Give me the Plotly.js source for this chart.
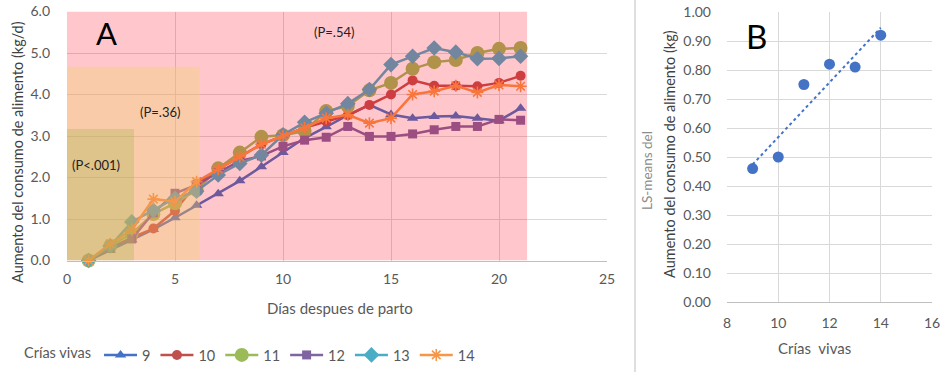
<!DOCTYPE html>
<html>
<head>
<meta charset="utf-8">
<script src="https://cdn.plot.ly/plotly-3.0.1.min.js"></script>
<style>html,body{margin:0;padding:0;background:#fff;}#chart{width:950px;height:372px;}</style>
</head>
<body>
<div id="chart"></div>
<script>
// ---- Panel A data ----
const days = [1,2,3,4,5,6,7,8,9,10,11,12,13,14,15,16,17,18,19,20,21];
const seriesNames = ['9','10','11','12','13','14'];
const s9  = [0,0.25,0.50,0.75,1.03,1.33,1.61,1.92,2.26,2.60,2.95,3.22,3.50,3.75,3.52,3.43,3.47,3.48,3.43,3.37,3.67];
const s10 = [0,0.30,0.55,0.77,1.20,1.85,2.20,2.50,2.80,3.00,3.20,3.35,3.50,3.75,4.00,4.34,4.21,4.21,4.20,4.28,4.45];
const s11 = [0,0.35,0.65,1.12,1.38,1.70,2.22,2.60,2.98,3.02,3.12,3.60,3.72,4.10,4.28,4.62,4.78,4.83,5.00,5.10,5.12];
const s12 = [0,0.30,0.52,1.15,1.62,1.82,2.12,2.40,2.52,2.75,2.90,2.97,3.23,2.99,2.99,3.05,3.15,3.23,3.23,3.40,3.38];
const s13 = [0,0.35,0.93,1.21,1.50,1.67,2.06,2.34,2.54,3.03,3.33,3.55,3.78,4.12,4.72,4.92,5.12,5.02,4.86,4.87,4.92];
const s14 = [0,0.40,0.75,1.48,1.42,1.90,2.20,2.50,2.80,3.00,3.20,3.43,3.51,3.31,3.43,4.00,4.08,4.21,4.05,4.23,4.20];
const pLabels = ['(P<.001)','(P=.36)','(P=.54)'];

// ---- Panel B data ----
const criasB = [9,10,11,12,13,14];
const lsMeans = [0.46,0.50,0.75,0.82,0.81,0.92];

const colors = ['#4472C4','#C0504D','#9BBB59','#8064A2','#4BACC6','#F79646'];
const symbols = ['triangle-up','circle','circle','square','diamond','asterisk-open'];
const sizes = [10,10,14,9,12,10];
const allS = [s9,s10,s11,s12,s13,s14];

const font = 'Lato, "Noto Sans", sans-serif';
const traces = allS.map((s,i)=>({
  x: days, y: s, type:'scatter', mode:'lines+markers', name: seriesNames[i],
  xaxis:'x', yaxis:'y', cliponaxis:false,
  line:{color:colors[i], width:2.5},
  marker:{symbol:symbols[i], size:sizes[i], color:colors[i], line:{color:colors[i], width: i===5?1.6:0}}
}));

// regression trendline for panel B
const n = criasB.length;
const mx = criasB.reduce((a,b)=>a+b,0)/n;
const my = lsMeans.reduce((a,b)=>a+b,0)/n;
let sxy=0, sxx=0;
for(let i=0;i<n;i++){sxy+=(criasB[i]-mx)*(lsMeans[i]-my); sxx+=(criasB[i]-mx)**2;}
const slope = sxy/sxx, icpt = my - slope*mx;
const tx = [criasB[0], criasB[n-1]];
traces.push({x:tx, y:tx.map(v=>icpt+slope*v), type:'scatter', mode:'lines', xaxis:'x2', yaxis:'y2',
  showlegend:false, line:{color:'#4472C4', width:2, dash:'dot'}, hoverinfo:'skip'});
traces.push({x:criasB, y:lsMeans, type:'scatter', mode:'markers', xaxis:'x2', yaxis:'y2', showlegend:false,
  cliponaxis:false, marker:{color:'#4472C4', size:11}});

const W=950, H=372;
const px = v=>v/W, py = v=>1-v/H;
const ann = (o)=>Object.assign({xref:'paper', yref:'paper', showarrow:false, xanchor:'center', yanchor:'middle'}, o);

const layout = {
  width:W, height:H, margin:{l:0,r:0,t:0,b:0}, paper_bgcolor:'#fff', plot_bgcolor:'#fff',
  font:{family:font, color:'#595959', size:14},
  showlegend:true,
  xaxis:{domain:[px(67),px(607)], range:[0,25], dtick:5, tick0:0, showgrid:true, gridcolor:'#D9D9D9', gridwidth:1,
    zeroline:false, showline:true, linecolor:'#BFBFBF', ticks:'', tickfont:{size:14,color:'#595959'}, ticklabelstandoff:6, fixedrange:true},
  yaxis:{domain:[py(260.5),py(11.5)], range:[0,6], dtick:1, tick0:0, tickformat:'.1f', showgrid:true, gridcolor:'#D9D9D9',
    zeroline:false, showline:false, ticks:'', tickfont:{size:14,color:'#595959'}, ticklabelstandoff:16, fixedrange:true},
  xaxis2:{domain:[px(727),px(932)], range:[8,16], dtick:2, tick0:8, anchor:'y2', showgrid:true, gridcolor:'#D9D9D9',
    zeroline:false, showline:true, linecolor:'#BFBFBF', ticks:'', tickfont:{size:14,color:'#595959'}, ticklabelstandoff:8, fixedrange:true},
  yaxis2:{domain:[py(302),py(12)], range:[0,1], dtick:0.1, tick0:0, tickformat:'.2f', anchor:'x2', showgrid:true, gridcolor:'#D9D9D9',
    zeroline:false, showline:false, ticks:'', tickfont:{size:14,color:'#595959'}, ticklabelstandoff:15, fixedrange:true},
  legend:{orientation:'h', x:px(22), y:py(355), xanchor:'left', yanchor:'middle', itemwidth:33,
    font:{size:14.5,color:'#595959'}, title:{text:'Crías vivas', side:'left', font:{size:14.5,color:'#595959'}},
    bgcolor:'rgba(0,0,0,0)', tracegroupgap:0},
  shapes:[
    {type:'rect', xref:'x', yref:'y', x0:0, x1:21.3, y0:0, y1:6, layer:'above', line:{width:0}, fillcolor:'rgba(255,0,25,0.22)'},
    {type:'rect', xref:'x', yref:'y', x0:0, x1:6.15, y0:0, y1:4.67, layer:'above', line:{width:0}, fillcolor:'rgba(241,213,103,0.35)'},
    {type:'rect', xref:'x', yref:'y', x0:0, x1:3.1, y0:0, y1:3.17, layer:'above', line:{width:0}, fillcolor:'rgba(170,181,84,0.35)'},
    {type:'line', xref:'paper', yref:'paper', x0:px(635), x1:px(635), y0:0, y1:1, line:{color:'#BFBFBF', width:1}}
  ],
  annotations:[
    ann({text:'Aumento del consumo de alimento (kg/d)', x:px(17), y:py(152), textangle:-90, font:{size:14.5,color:'#404040'}}),
    ann({text:'Días despues de parto', x:px(340), y:py(308), font:{size:15,color:'#595959'}}),
    ann({text:'A', x:px(106), y:py(33), font:{size:31,color:'#000'}}),
    ann({text:pLabels[0], x:px(96), y:py(165), font:{size:13,color:'#222'}}),
    ann({text:pLabels[1], x:px(160), y:py(112), font:{size:13,color:'#222'}}),
    ann({text:pLabels[2], x:px(334), y:py(32), font:{size:13,color:'#222'}}),
    ann({text:'B', x:px(756), y:py(36), font:{size:33,color:'#000'}}),
    ann({text:'LS-means del', x:px(647), y:py(171), textangle:-90, font:{size:13.5,color:'#8C8C8C'}}),
    ann({text:'Aumento del consumo de alimento (kg)', x:px(669), y:py(154), textangle:-90, font:{size:14.5,color:'#404040'}}),
    ann({text:'Crías  vivas', x:px(814), y:py(348), font:{size:15,color:'#595959'}})
  ]
};

Plotly.newPlot('chart', traces, layout, {displayModeBar:false, staticPlot:true});
</script>
</body>
</html>
